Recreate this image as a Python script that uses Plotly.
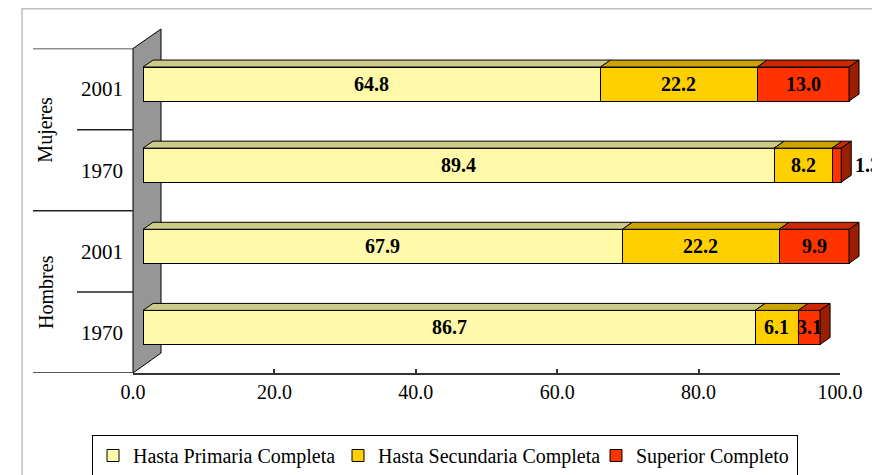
import plotly.graph_objects as go

# ---------------- data ----------------
groups = ["Hombres", "Hombres", "Mujeres", "Mujeres"]
years = ["1970", "2001", "1970", "2001"]
series_names = ["Hasta Primaria Completa", "Hasta Secundaria Completa", "Superior Completo"]
primaria = [86.7, 67.9, 89.4, 64.8]
secundaria = [6.1, 22.2, 8.2, 22.2]
superior = [3.1, 9.9, 1.3, 13.0]
x_ticks = [0, 20, 40, 60, 80, 100]

# ---------------- styling ----------------
W, H = 880, 475
OFF = 8  # page body margin offset
FONT = "Liberation Serif, Times New Roman, serif"
front_cols = ["#FFFAAA", "#FFD000", "#FF3300"]
top_cols = ["#CCCC88", "#CCA300", "#CC2900"]
side_col = "#991F00"
legend_widths = [200, 213, 156]


def px(x):
    return (x - OFF) / W


def py(y):
    return 1 - (y - OFF) / H


pos = list(range(len(years)))
BAR_W = 0.42
DX = 1.42   # 3D depth, x data units
DY = 0.086  # 3D depth, y category units
XMAX = 104

fig = go.Figure()
series = [primaria, secundaria, superior]
for name, vals, col, lw in zip(series_names, series, front_cols, legend_widths):
    fig.add_trace(go.Bar(
        y=pos, x=vals, orientation="h", name=name, width=BAR_W,
        marker=dict(color=col, line=dict(color="black", width=1)),
        xaxis="x", yaxis="y", hoverinfo="skip", textposition="none",
        legendwidth=lw,
    ))
# dummy trace so the tick/label subplot exists
fig.add_trace(go.Scatter(x=[None], y=[None], xaxis="x2", yaxis="y2",
                         showlegend=False, hoverinfo="skip"))

shapes = []
annotations = []

# outer chart border
shapes.append(dict(type="rect", xref="paper", yref="paper",
                   x0=px(22), y0=py(8.75), x1=px(900), y1=py(500),
                   line=dict(color="#BFBFBF", width=1.5), fillcolor="rgba(0,0,0,0)",
                   layer="below"))
# gray wall
wall = f"M{px(133)},{py(373)} L{px(133)},{py(48.5)} L{px(161)},{py(29)} L{px(161)},{py(353)} Z"
shapes.append(dict(type="path", xref="paper", yref="paper", path=wall,
                   fillcolor="#969696", line=dict(color="black", width=1), layer="below"))
# category dividers on the left
for yv, x0 in [(3.5, 33), (2.5, 77), (1.5, 33), (0.5, 77), (-0.5, 33)]:
    shapes.append(dict(type="line", xref="paper", yref="y2", x0=px(x0), x1=px(133),
                       y0=yv, y1=yv, line=dict(color="#222222", width=1.5)))

# 3D faces and value labels
for i in pos:
    start = 0.0
    yt = i + BAR_W / 2
    yb = i - BAR_W / 2
    for s, vals in enumerate(series):
        v = vals[i]
        x0, x1 = start, start + v
        path = (f"M{x0},{yt} L{x0 + DX},{yt + DY} L{x1 + DX},{yt + DY} L{x1},{yt} Z")
        shapes.append(dict(type="path", xref="x", yref="y", path=path,
                           fillcolor=top_cols[s], line=dict(color="black", width=1)))
        if s == len(series) - 1:
            spath = (f"M{x1},{yt} L{x1 + DX},{yt + DY} L{x1 + DX},{yb + DY} L{x1},{yb} Z")
            shapes.append(dict(type="path", xref="x", yref="y", path=spath,
                               fillcolor=side_col, line=dict(color="black", width=1)))
        if v < 2:
            annotations.append(dict(x=x1 + DX, y=i, xref="x", yref="y", text=f"{v:.1f}",
                                    showarrow=False, xanchor="left", xshift=2,
                                    font=dict(family=FONT, size=20, color="black", weight="bold")))
        else:
            annotations.append(dict(x=start + v / 2, y=i, xref="x", yref="y", text=f"{v:.1f}",
                                    showarrow=False, xanchor="center",
                                    font=dict(family=FONT, size=20, color="black", weight="bold")))
        start = x1

# group labels
for g in ["Mujeres", "Hombres"]:
    idx = [k for k, gg in enumerate(groups) if gg == g]
    annotations.append(dict(x=px(46), y=sum(idx) / len(idx), xref="paper", yref="y2",
                            text=g, textangle=-90, showarrow=False,
                            xanchor="center", yanchor="middle",
                            font=dict(family=FONT, size=20, color="black")))

x0_bar = 143
k = 7.06
fig.update_layout(
    template="none",
    width=W, height=H,
    margin=dict(l=0, r=0, t=0, b=0, pad=0, autoexpand=False),
    paper_bgcolor="white", plot_bgcolor="rgba(0,0,0,0)",
    barmode="stack",
    showlegend=True,
    xaxis=dict(domain=[px(x0_bar), px(x0_bar + XMAX * k)], range=[0, XMAX],
               visible=False, anchor="y", fixedrange=True, automargin=False),
    yaxis=dict(domain=[py(368), py(43.5)], range=[-0.5, 3.5], visible=False,
               anchor="x", fixedrange=True, automargin=False),
    xaxis2=dict(domain=[px(133), px(840)], range=[0, 100], anchor="y2",
                tickvals=x_ticks, ticktext=[f"{t:.1f}" for t in x_ticks],
                ticks="inside", ticklen=4, tickcolor="#333333", tickwidth=1.5,
                showline=True, linecolor="#333333", linewidth=1.5,
                showgrid=False, zeroline=False, automargin=False,
                tickfont=dict(family=FONT, size=20, color="black"), fixedrange=True),
    yaxis2=dict(domain=[py(373), py(48.5)], range=[-0.5, 3.5], anchor="free",
                position=px(133), tickvals=pos, ticktext=years, ticks="",
                showline=False, showgrid=False, zeroline=False, ticklabelstandoff=10,
                automargin=False,
                tickfont=dict(family=FONT, size=21, color="black"), fixedrange=True),
    legend=dict(orientation="h", x=px(92), xanchor="left", y=py(435), yanchor="top",
                bgcolor="white", bordercolor="black", borderwidth=1,
                font=dict(family=FONT, size=20, color="black"), traceorder="normal"),
    shapes=shapes,
    annotations=annotations,
)

fig.write_html("out.html")
